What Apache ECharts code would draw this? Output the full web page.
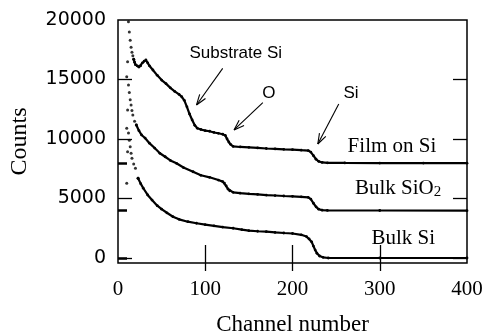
<!DOCTYPE html>
<html><head><meta charset="utf-8">
<script src="https://cdn.jsdelivr.net/npm/echarts@6/dist/echarts.min.js"></script>
<style>html,body{margin:0;padding:0;background:#fff}#c{width:484px;height:333px}</style>
</head><body><div id="c"></div>
<script>
// ---- data ----
const xTickLabels = [0, 100, 200, 300, 400];
const yTickLabels = [0, 5000, 10000, 15000, 20000];
const offsetTicks = [0, 4000, 8000];

// Film on Si (offset +8000): steep leading edge drawn as separate dots, rest as dense dotted trace
const filmEdge = [[10,15240],[11,16500],[12,19860],[13,19000],[14,18300],[15,17700],[16,17300],[17,17000],[18,16700]];
const filmBody = [[18,16700],[19,16450],[20,16250],[22,16150],[24,16050],[26,16150],[28,16400],[30,16550],[32,16640],[34,16400],[36,16150],[40,15800],[45,15350],[50,14950],[55,14650],[60,14300],[65,14000],[70,13750],[73,13550],[76,13250],[79,12700],[82,12100],[85,11600],[88,11150],[91,10900],[95,10800],[100,10700],[105,10650],[110,10550],[115,10480],[120,10400],[123,10300],[125,10000],[127,9750],[129,9550],[132,9380],[140,9330],[150,9300],[160,9250],[170,9200],[180,9170],[190,9130],[200,9100],[210,9060],[218,9030],[221,8900],[224,8600],[227,8300],[230,8120],[234,8030],[240,8000],[260,7990],[300,7980],[350,7980],[400,7970]];

// Bulk SiO2 (offset +4000)
const sio2Edge = [[10,10900],[11,12440],[12,14540],[13,13900],[14,13300],[15,12860],[16,12400],[17,12020],[19,11500],[21,11180]];
const sio2Body = [[21,11180],[24,10700],[27,10340],[31,10080],[36,9650],[42,9240],[48,8800],[54,8510],[60,8200],[67,7960],[75,7600],[86,7250],[95,6950],[105,6780],[115,6550],[120,6420],[122,6300],[124,6050],[126,5800],[128,5650],[132,5520],[140,5450],[150,5390],[160,5340],[170,5290],[180,5250],[190,5210],[200,5180],[210,5140],[218,5100],[221,4950],[224,4600],[227,4300],[230,4100],[234,4020],[240,4000],[300,3990],[400,3980]];

// Bulk Si (no offset)
const siEdge = [[10,6280],[11,8930],[12,10500],[13,9900],[14,9350],[15,8800],[16,8380],[18,7900],[20,7540],[23,6700]];
const siBody = [[23,6700],[26,6250],[29,5860],[34,5300],[39,4870],[45,4400],[50,4100],[56,3800],[63,3470],[70,3250],[80,3050],[90,2920],[100,2800],[110,2700],[120,2600],[132,2500],[142,2380],[150,2300],[160,2250],[170,2210],[180,2150],[190,2100],[200,2060],[210,1950],[216,1800],[219,1600],[222,1350],[224,1000],[226,670],[228,400],[231,170],[235,60],[241,0],[300,0],[400,0]];

// annotations (data coordinates)
const arrows = [
  {text:'Substrate Si', label:[135,17230], tail:[120,15940], tip:[90,12860]},
  {text:'O', label:[173,13870], tail:[166,13050], tip:[133,10760]},
  {text:'Si', label:[267,13820], tail:[253,12940], tip:[229,9580]}
];
const curveLabels = [
  {text:'Film on Si', at:[314,9410]},
  {text:'Bulk SiO{s|2}', at:[321,5880]},
  {text:'Bulk Si', at:[327,1680]}
];

const chart = echarts.init(document.getElementById('c'), null, {renderer:'canvas'});
const black = '#000';
const serif = '"Liberation Serif", "Times New Roman", serif';
const sans = '"Liberation Sans", Arial, sans-serif';

function lineSeries(name, data){
  return {name, type:'line', data, xAxisIndex:0, yAxisIndex:0, symbol:'circle', symbolSize:2.8,
    showAllSymbol:true, itemStyle:{color:black}, lineStyle:{color:black, width:2.2}, z:3, silent:true, animation:false};
}
function dotSeries(name, data){
  return {name, type:'scatter', data, xAxisIndex:0, yAxisIndex:0, symbolSize:3, itemStyle:{color:black}, silent:true, animation:false};
}

const option = {
  animation:false,
  grid:{left:118, right:17, top:20, bottom:70, containLabel:false, outerBoundsMode:'none',
        show:true, borderColor:black, borderWidth:1.5, backgroundColor:'transparent'},
  xAxis:[
    {type:'value', position:'bottom', min:0, max:400, splitLine:{show:false},
     axisLine:{show:false},
     axisTick:{inside:true, length:13, lineStyle:{color:black, width:1.3}, customValues:[100,200,300]},
     axisLabel:{customValues:xTickLabels, formatter:v=>String(v), color:black, fontFamily:serif, fontSize:21, margin:16},
     name:'Channel number', nameLocation:'middle', nameGap:50,
     nameTextStyle:{color:black, fontFamily:serif, fontSize:23}},
    {type:'value', position:'top', min:0, max:400, splitLine:{show:false}, axisLine:{show:false},
     axisTick:{inside:true, length:13, lineStyle:{color:black, width:1.3}, customValues:[100,200,300]},
     axisLabel:{show:false}}
  ],
  yAxis:[
    {type:'value', position:'left', min:-420, max:20000, splitLine:{show:false}, axisLine:{show:false},
     axisTick:{inside:true, length:14, lineStyle:{color:black, width:1.3}, customValues:[0,5000,10000,15000]},
     axisLabel:{customValues:yTickLabels, formatter:v=>String(v), color:black, fontFamily:'"DejaVu Sans", sans-serif', fontSize:19, margin:12},
     name:'Counts', nameLocation:'middle', nameGap:86,
     nameTextStyle:{color:black, fontFamily:serif, fontSize:24}},
    {type:'value', position:'left', min:-420, max:20000, splitLine:{show:false}, axisLine:{show:false},
     axisTick:{inside:true, length:9, lineStyle:{color:black, width:2.5}, customValues:offsetTicks},
     axisLabel:{show:false}},
    {type:'value', position:'right', min:-420, max:20000, splitLine:{show:false}, axisLine:{show:false},
     axisTick:{inside:true, length:14, lineStyle:{color:black, width:1.3}, customValues:[0,5000,10000,15000]},
     axisLabel:{show:false}}
  ],
  series:[
    dotSeries('Film edge', filmEdge), lineSeries('Film on Si', filmBody),
    dotSeries('SiO2 edge', sio2Edge), lineSeries('Bulk SiO2', sio2Body),
    dotSeries('Si edge', siEdge), lineSeries('Bulk Si', siBody)
  ]
};
chart.setOption(option);

function px(p){ return chart.convertToPixel({xAxisIndex:0, yAxisIndex:0}, p); }
const g = [];
arrows.forEach(a=>{
  const L = px(a.label), T = px(a.tail), P = px(a.tip);
  g.push({type:'text', x:L[0], y:L[1], style:{text:a.text, font:'17px '+sans, fill:black, align:'center', verticalAlign:'middle'}, z:10});
  g.push({type:'line', shape:{x1:T[0], y1:T[1], x2:P[0], y2:P[1]}, style:{stroke:black, lineWidth:1.1}, z:10});
  const ang = Math.atan2(T[1]-P[1], T[0]-P[0]);
  [0.33,-0.33].forEach(d=>{
    g.push({type:'line', shape:{x1:P[0], y1:P[1], x2:P[0]+11*Math.cos(ang+d), y2:P[1]+11*Math.sin(ang+d)}, style:{stroke:black, lineWidth:1.1}, z:10});
  });
});
curveLabels.forEach(c=>{
  const L = px(c.at);
  g.push({type:'text', x:L[0], y:L[1], style:{text:c.text, font:'21px '+serif, fill:black, align:'center', verticalAlign:'middle',
    rich:{s:{fontFamily:serif, fontSize:15, padding:[9,0,0,0], fill:black}}}, z:10});
});
chart.setOption({graphic:g});
</script></body></html>
